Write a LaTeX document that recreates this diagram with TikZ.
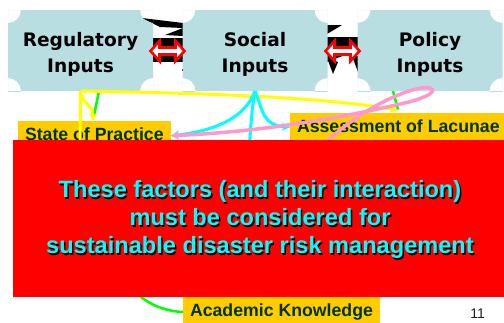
\documentclass[tikz,border=0pt]{standalone}
\usepackage{fontspec}
\setmainfont{Liberation Sans}
\newfontfamily\djv{DejaVu Sans}
\usetikzlibrary{arrows.meta,calc}
\definecolor{boxblue}{RGB}{185,222,226}
\definecolor{orng}{RGB}{255,204,0}
\definecolor{dkgreen}{RGB}{0,51,0}
\definecolor{pnk}{RGB}{255,153,204}
\definecolor{grn}{RGB}{0,255,0}
\definecolor{cya}{RGB}{0,255,255}
\definecolor{yel}{RGB}{255,255,0}
\definecolor{pgray}{RGB}{30,30,30}
\newcommand\redarrow[2]{%
  \coordinate (#1) at #2;
  \draw[redarr] ($(#1)+(-17pt,0pt)$) -- ++(9pt,10pt) -- ++(0pt,-6.5pt) -- ++(16pt,0pt)
    -- ++(0pt,6.5pt) -- ++(9pt,-10pt) -- ++(-9pt,-10pt) -- ++(0pt,6.5pt)
    -- ++(-16pt,0pt) -- ++(0pt,-6.5pt) -- cycle;}
\begin{document}
\begin{tikzpicture}[x=1pt,y=-1pt,
  plq/.style={minimum width=145pt, minimum height=81pt, inner sep=0pt, outer sep=0pt,
    path picture={\fill[boxblue, even odd rule]
      (path picture bounding box.south west) rectangle (path picture bounding box.north east)
      (path picture bounding box.south west) circle[radius=13pt]
      (path picture bounding box.south east) circle[radius=13pt]
      (path picture bounding box.north west) circle[radius=13pt]
      (path picture bounding box.north east) circle[radius=13pt];}},
  plqtxt/.style={align=center, inner sep=0pt, font=\djv\bfseries\fontsize{18.6}{26}\selectfont},
  obox/.style={fill=orng, text=dkgreen, inner xsep=7pt, inner ysep=0pt, outer sep=0pt,
    text height=19.4pt, text depth=10pt, font=\bfseries\fontsize{17.7}{20}\selectfont},
  redarr/.style={draw=red, fill=white, line width=2.6pt, line join=miter},
  yelln/.style={draw=yel, line width=3pt},
  cyln/.style={draw=cya, line width=3pt},
  grln/.style={draw=grn, line width=2.5pt},
  pkln/.style={draw=pnk, line width=3.5pt},
  tip/.style={-{Stealth[length=8pt,width=8pt]}},
  msgfont/.style={align=center, inner sep=0pt, font=\bfseries\fontsize{23.6}{28}\selectfont}
]
\useasboundingbox (0,0) rectangle (504,322);
\fill[white] (0,0) rectangle (504,322);

% black fragments behind the boxes
\fill[black] (142,18) -- (183,23) -- (183,28) -- (160,27) -- cycle;
\fill[black] (165,35) -- (183,28) -- (183,36) -- cycle;
\fill[black] (153,38) rectangle (183,62);
\fill[black] (182,69) rectangle (184,71);
\fill[black] (327,25) -- (342,25) -- (327,34) -- cycle;
\fill[black] (327,37) -- (358,37) -- (358,50) -- (327,62) -- cycle;
\fill[black] (327,58) -- (338,62) -- (333,74) -- cycle;
\fill[black] (352,56) -- (358,56) -- (358,72) -- cycle;

% input boxes
\node[plq] (reg) at (80.5,50.5) {};
\node[plq] (soc) at (255,50.5) {};
\node[plq] (pol) at (430,50.5) {};
\node[plqtxt] (regt) at (80.5,54) {Regulatory\\Inputs};
\node[plqtxt] (soct) at (255,54) {Social\\Inputs};
\node[plqtxt] (polt) at (430,54) {Policy\\Inputs};

\redarrow{ra}{(167.5,51)}
\redarrow{rb}{(342.5,51)}

% factor boxes
\node[obox, anchor=base west] (sop) at (18,140.4) {State of Practice};
\node[obox, anchor=base west] (ass) at (290,132) {Assessment of Lacunae};
\node[obox, anchor=base west] (aca) at (183,316.7) {Academic Knowledge};

% hidden ends of connectors (under the red panel)
\coordinate (ybot) at (80,150);
\coordinate (cmid) at (249,150);
\coordinate (pk0) at (322,146);
\coordinate (ghid) at (125,275);
\coordinate (yend) at (398,110);

% green
\draw[grln] ($(reg.south)+(18.5pt,0pt)$) -- ($(sop.north west)+(76pt,5pt)$);
\draw[grln] ($(pol.south)+(-37pt,0pt)$) -- ($(ass.north west)+(108pt,3pt)$);
\draw[grln] (ghid) .. controls (135,300) and (160,311) .. (aca.west);
% yellow
\draw[yelln] (reg.south) -- (ybot);
\draw[yelln, tip] (reg.south) .. controls (250,94) and (330,99) .. (yend);
\draw[yelln, tip] ($(reg.south)+(1.5pt,-4pt)$) .. controls (84,106) and (93,104) .. ($(sop.north west)+(75pt,0pt)$);
% cyan
\draw[cyln, tip] (soc.south) .. controls (245,118) and (215,131) .. (sop.east);
\draw[cyln] (soc.south) .. controls (252,110) .. (cmid);
\draw[cyln, tip] (soc.south) .. controls (263,110) and (262,125) .. (ass.west);
% pink
\draw[pkln, tip] (pk0) .. controls (360,108) and (415,84) .. (430,88)
  .. controls (440,92) and (420,100) .. (400,104)
  .. controls (340,118) and (260,132) .. (sop.east);

% red panel
\node[fill=red, inner sep=0pt, outer sep=0pt, anchor=north west,
  minimum width=491pt, minimum height=157pt] (msg) at (13,140) {};
\node[msgfont, text=black] (msgs) at (261.5,221.4) {These factors (and their interaction)\\must be considered for\\sustainable disaster risk management};
\node[msgfont, text=cya] (msgt) at (260,219.9) {These factors (and their interaction)\\must be considered for\\sustainable disaster risk management};

% page number
\node[anchor=base east, inner sep=0pt, text=pgray, font=\fontsize{14}{16}\selectfont] (pg) at (485,318.3) {11};
\end{tikzpicture}
\end{document}
